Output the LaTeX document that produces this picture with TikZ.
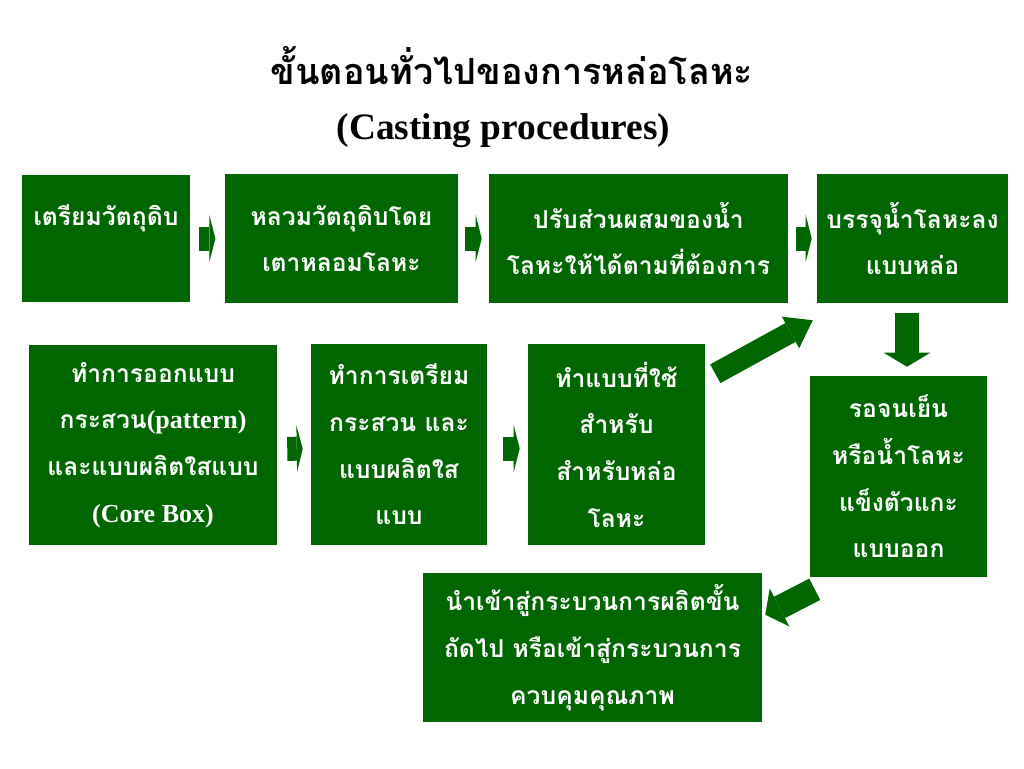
\documentclass[tikz,border=0pt]{standalone}
\usepackage{fontspec}
\setmainfont{Liberation Serif}
\newfontfamily\thai[Script=Thai]{Loma}
\usetikzlibrary{arrows.meta,calc}
\definecolor{g}{RGB}{0,102,0}
\begin{document}
\begin{tikzpicture}[x=0.75pt,y=-0.75pt,
  box/.style={fill=g, text=white, inner sep=0pt, align=center,
    font=\thai\bfseries\fontsize{18.5}{35}\selectfont},
  wh/.style 2 args={minimum width=#1*0.75pt, minimum height=#2*0.75pt},
  blk/.style n args={3}{draw=g, line width=#1, -{Triangle[length=#2,width=#3,line width=0pt]}}
]
\useasboundingbox[fill=white] (0,0) rectangle (1024,768);

% title
\node[font=\thai\bfseries\fontsize{27}{30}\selectfont] (t1) at (512,66) {ขั้นตอนทั่วไปของการหล่อโลหะ};
\node[font=\rmfamily\bfseries\fontsize{28}{30}\selectfont] (t2) at (503.5,131) {(Casting procedures)};

% row 1
\node[box, wh={168}{127}] (b1) at (106,238.5) {เตรียมวัตถุดิบ\\\phantom{ก}};
\node[box, wh={233}{129}] (b2) at (341.5,238.5) {หลวมวัตถุดิบโดย\\เตาหลอมโลหะ};
\node[box, wh={299}{129}] (b3) at (638.5,238.5) {ปรับส่วนผสมของน้ำ\\โลหะให้ได้ตามที่ต้องการ};
\node[box, wh={191}{129}] (b4) at (912.5,238.5) {บรรจุน้ำโลหะลง\\แบบหล่อ};

% row 2
\node[box, wh={248}{200}] (c1) at (153,445) {ทำการออกแบบ\\กระสวน{\rmfamily\fontsize{19.5}{35}\selectfont(pattern)}\\และแบบผลิตใสแบบ\\{\rmfamily\fontsize{19.5}{35}\selectfont(Core Box)}};
\node[box, wh={176}{201}] (c2) at (399,444.5) {ทำการเตรียม\\กระสวน และ\\แบบผลิตใส\\แบบ};
\node[box, wh={177}{201}] (c3) at (616.5,444.5) {ทำแบบที่ใช้\\สำหรับ\\สำหรับหล่อ\\โลหะ};
\node[box, wh={177}{201}] (c4) at (898.5,476.5) {รอจนเย็น\\หรือน้ำโลหะ\\แข็งตัวแกะ\\แบบออก};
\node[box, wh={339}{149}] (c5) at (592.5,647.5) {\rule{0pt}{6pt}นำเข้าสู่กระบวนการผลิตขั้น\\ถัดไป หรือเข้าสู่กระบวนการ\\ควบคุมคุณภาพ};

% small arrows
\draw[blk={18pt}{4.5pt}{35pt}, shorten <=6.75pt, shorten >=7pt] (b1) -- (b2);
\draw[blk={18pt}{4.5pt}{35pt}, shorten <=5.25pt, shorten >=5.25pt] (b2) -- (b3);
\draw[blk={18pt}{4.5pt}{35pt}, shorten <=6pt, shorten >=3.75pt] (b3) -- (b4);
\draw[blk={18pt}{4.5pt}{35pt}, shorten <=7.5pt, shorten >=6pt] ([yshift=-3pt]c1.east) -- ([yshift=-3pt]c2.west);
\draw[blk={18pt}{4.5pt}{35pt}, shorten <=12pt, shorten >=6pt] ([yshift=-3pt]c2.east) -- ([yshift=-3pt]c3.west);

% big arrows
\draw[blk={16pt}{19pt}{27pt}] ([shift={(10,30)}]c3.north east) -- ([shift={(-4,17)}]b4.south west);
\draw[blk={18pt}{10.5pt}{35pt}] ([shift={(-5.5,10)}]b4.south) -- ([shift={(8.5,-9)}]c4.north);
\draw[blk={18pt}{12pt}{32pt}] ([shift={(5,12)}]c4.south west) -- ([shift={(3,42)}]c5.north east);
\end{tikzpicture}
\end{document}
